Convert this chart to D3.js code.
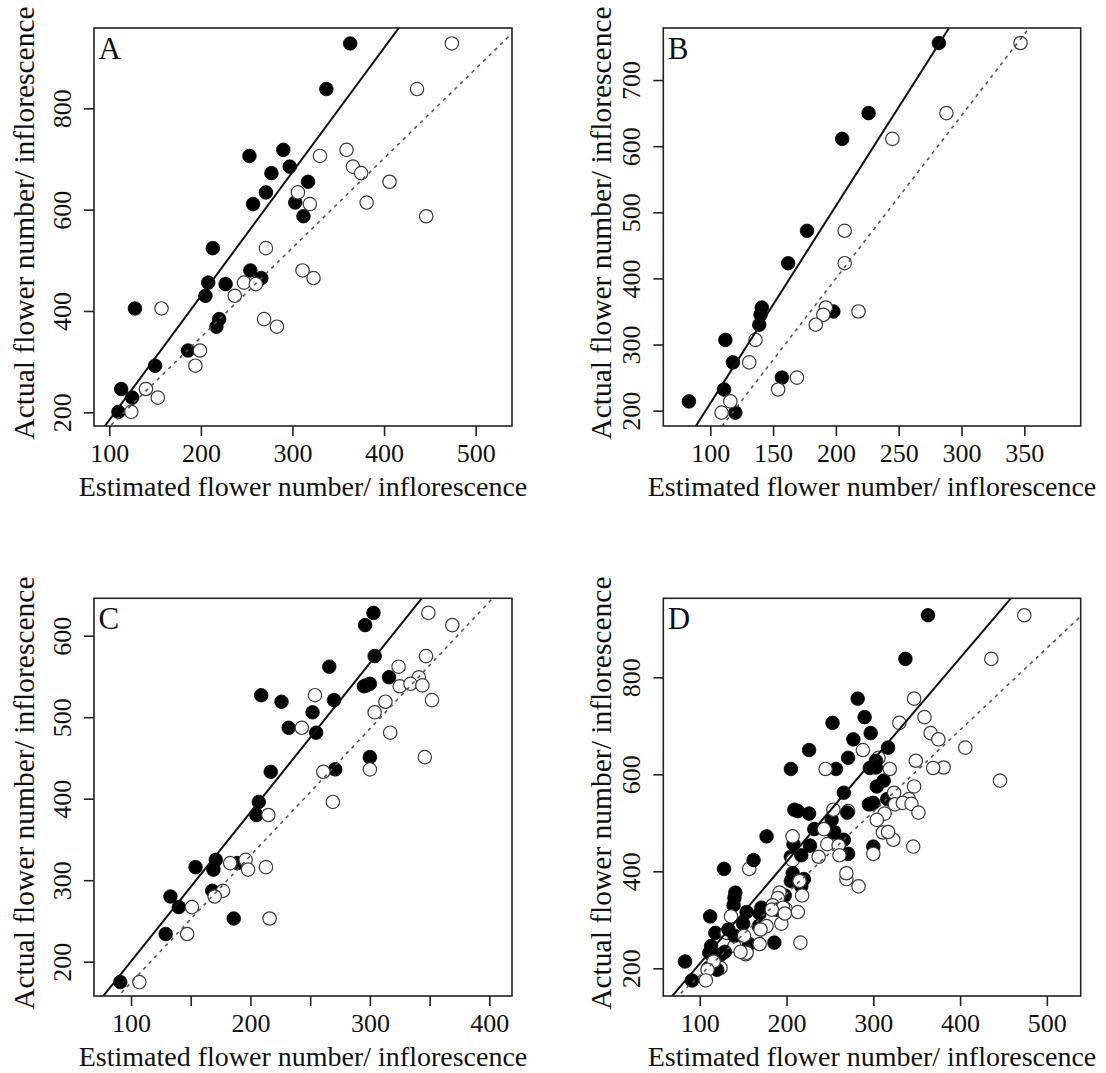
<!DOCTYPE html>
<html><head><meta charset="utf-8">
<script src="https://cdn.jsdelivr.net/npm/d3@7"></script>
<style>body{margin:0;background:#fff}</style>
</head><body>
<svg id="c" width="1106" height="1073"></svg>
<script>
// ---- Data ----
// Panel A
const aActual   = [928,838,706,718,685,672,655,634,611,614,587,524,480,465,456,453,430,405,384,369,322,292,246,229,201];
const aEstFill  = [363,337,253,290,297,277,317,271,257,303,312,213,254,266,208,227,205,128,220,217,186,150,113,125,110];
const aEstOpen  = [474,436,330,359,366,375,406,306,319,381,446,271,311,323,247,260,237,157,269,283,199,194,140,153,124];
// Panel B
const bActual   = [756,650,611,472,423,356,345,330,350,307,273,250,232,214,197];
const bEstFill  = [282,226,205,177,162,141,140,139,198,112,118,157,111,83,120];
const bEstOpen  = [347,288,245,207,207,192,190,184,218,136,131,169,154,116,109];
// Panel C
const cActual   = [628,613,575,562,549,538,541,539,527,519,521,506,487,481,451,436,433,396,380,325,316,313,321,287,280,267,253,234,175];
const cEstFill  = [303,296,304,266,316,295,300,297,209,226,270,252,232,255,300,271,217,207,205,171,154,169,189,168,133,140,186,129,91];
const cEstOpen  = [349,369,347,324,341,325,334,344,254,313,352,304,243,317,346,300,261,269,215,196,213,198,183,177,170,151,216,147,107];

// Regression lines [intercept, slope]
const linesFill = { A: [-60.4, 2.449], B: [-87.7, 2.987], C: [17.4, 1.830], D: [-0.6, 2.101] };
const linesOpen = { A: [-5.1, 1.766],  B: [-92.9, 2.464], C: [18.7, 1.557], D: [16.6, 1.687] };

// Tick values
const ticksX = { A: [100,200,300,400,500], B: [100,150,200,250,300,350], C: [100,150,200,250,300,350,400], D: [100,200,300,400,500] };
const tickLabX = { C: [100,200,300,400] };
const ticksY = { A: [200,400,600,800], B: [200,300,400,500,600,700], C: [200,300,400,500,600], D: [200,400,600,800] };

const xTitle = "Estimated flower number/ inflorescence";
const yTitle = "Actual flower number/ inflorescence";

// ---- Layout ----
const panels = [
  { id: "A", box: [94, 28, 512, 426],   xd: [83.3, 539.7], yd: [173, 958.5], ytx: 34,
    groups: [[aEstFill, aEstOpen, aActual]] },
  { id: "B", box: [663.3, 28, 1080.7, 426], xd: [62.6, 394.9], yd: [176.8, 778.7], ytx: 611,
    groups: [[bEstFill, bEstOpen, bActual]] },
  { id: "C", box: [94, 598.3, 512, 996], xd: [69, 419], yd: [157.9, 645.9], ytx: 34,
    groups: [[cEstFill, cEstOpen, cActual]] },
  { id: "D", box: [663.3, 598.3, 1080.7, 996], xd: [58, 539], yd: [142.9, 962.9], ytx: 611,
    groups: [[aEstFill, aEstOpen, aActual],[bEstFill, bEstOpen, bActual],[cEstFill, cEstOpen, cActual]] }
];

const FONT = "'Liberation Serif','Times New Roman',serif";
const svg = d3.select("#c");

panels.forEach(p => {
  const [x0, y0, x1, y1] = p.box;
  const x = d3.scaleLinear().domain(p.xd).range([x0, x1]);
  const y = d3.scaleLinear().domain(p.yd).range([y1, y0]);
  const g = svg.append("g");
  const clipId = "clip" + p.id;
  svg.append("clipPath").attr("id", clipId).append("rect")
    .attr("x", x0).attr("y", y0).attr("width", x1 - x0).attr("height", y1 - y0);

  // points
  const pts = g.append("g").attr("clip-path", `url(#${clipId})`);
  p.groups.forEach(([ef, eo, act]) => {
    pts.selectAll(null).data(act.map((v, i) => [ef[i], v])).join("circle")
      .attr("cx", d => x(d[0])).attr("cy", d => y(d[1])).attr("r", 6.8)
      .attr("fill", "#000").attr("stroke", "#000").attr("stroke-width", 0.8);
    pts.selectAll(null).data(act.map((v, i) => [eo[i], v])).join("circle")
      .attr("cx", d => x(d[0])).attr("cy", d => y(d[1])).attr("r", 6.7)
      .attr("fill", "#fff").attr("stroke", "#3a3a3a").attr("stroke-width", 1.2);
  });

  // regression lines
  const ln = (ab) => { const [a, b] = ab; return [[p.xd[0], a + b * p.xd[0]], [p.xd[1], a + b * p.xd[1]]]; };
  const lineGen = d3.line().x(d => x(d[0])).y(d => y(d[1]));
  pts.append("path").attr("d", lineGen(ln(linesOpen[p.id])))
    .attr("fill", "none").attr("stroke", "#555").attr("stroke-width", 1.6).attr("stroke-dasharray", "3.5,4.5");
  pts.append("path").attr("d", lineGen(ln(linesFill[p.id])))
    .attr("fill", "none").attr("stroke", "#111").attr("stroke-width", 2);

  // box
  g.append("rect").attr("x", x0).attr("y", y0).attr("width", x1 - x0).attr("height", y1 - y0)
    .attr("fill", "none").attr("stroke", "#222").attr("stroke-width", 1.6);

  // axes
  const labSet = new Set(tickLabX[p.id] || ticksX[p.id]);
  const ax = g.append("g").attr("transform", `translate(0,${y1})`)
    .call(d3.axisBottom(x).tickValues(ticksX[p.id]).tickSize(10).tickSizeOuter(0)
      .tickFormat(d => labSet.has(d) ? d : ""));
  ax.select(".domain").remove();
  ax.selectAll("line").attr("stroke", "#222").attr("stroke-width", 1.6);
  ax.selectAll("text").attr("y", 35.5).attr("dy", null).attr("font-family", FONT)
    .attr("font-size", 26).attr("fill", "#111");

  const ay = g.append("g").attr("transform", `translate(${x0},0)`)
    .call(d3.axisLeft(y).tickValues(ticksY[p.id]).tickSize(10).tickSizeOuter(0));
  ay.select(".domain").remove();
  ay.selectAll("line").attr("stroke", "#222").attr("stroke-width", 1.6);
  ay.selectAll("text").attr("x", null).attr("dy", null)
    .attr("transform", "translate(-23,0) rotate(-90)")
    .attr("text-anchor", "middle").attr("font-family", FONT)
    .attr("font-size", 26).attr("fill", "#111");

  // titles
  g.append("text").attr("x", (x0 + x1) / 2).attr("y", y1 + 70)
    .attr("text-anchor", "middle").attr("font-family", FONT).attr("font-size", 28)
    .attr("fill", "#111").text(xTitle);
  g.append("text").attr("transform", `translate(${p.ytx},${(y0 + y1) / 2 - 4}) rotate(-90)`)
    .attr("text-anchor", "middle").attr("font-family", FONT).attr("font-size", 29.5)
    .attr("fill", "#111").text(yTitle);

  // panel letter
  g.append("text").attr("x", x0 + 4.5).attr("y", y0 + 31).attr("font-family", FONT)
    .attr("font-size", 31).attr("fill", "#111").text(p.id);
});
</script>
</body></html>
